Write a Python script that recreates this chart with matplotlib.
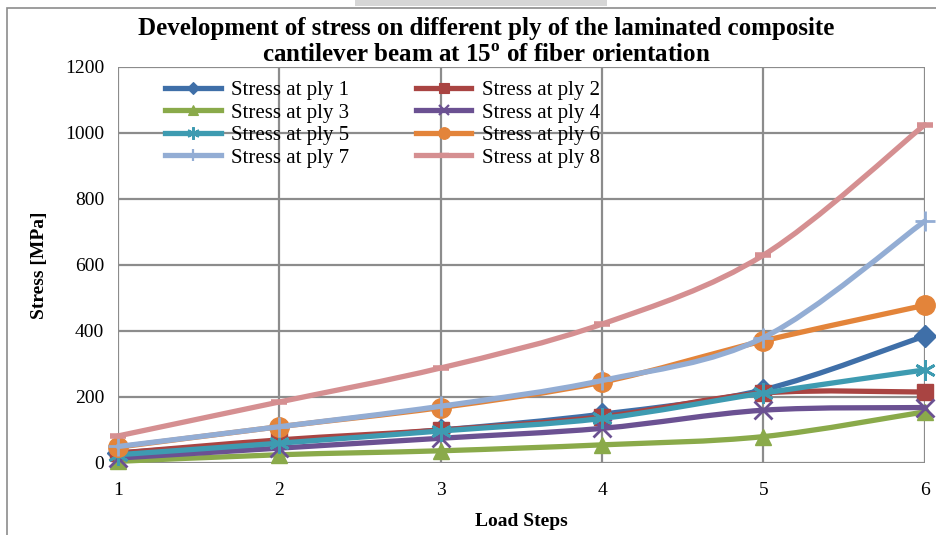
import matplotlib
matplotlib.use("Agg")
import matplotlib.pyplot as plt
from matplotlib.path import Path
from matplotlib.patches import PathPatch, Rectangle
from matplotlib.lines import Line2D

plt.rcParams['font.family'] = ['Liberation Serif', 'DejaVu Serif']
plt.rcParams['mathtext.fontset'] = 'custom'
plt.rcParams['mathtext.rm'] = 'Liberation Serif'
plt.rcParams['mathtext.bf'] = 'Liberation Serif:bold'

# load steps and stress per ply [MPa]
steps = [1, 2, 3, 4, 5, 6]
ply1 = [30, 65, 100, 148, 222, 385]
ply2 = [30, 70, 100, 140, 212, 215]
ply3 = [5, 25, 37, 55, 80, 155]
ply4 = [15, 45, 75, 105, 160, 168]
ply5 = [25, 60, 97, 135, 212, 282]
ply6 = [48, 110, 168, 245, 370, 478]
ply7 = [50, 110, 172, 250, 380, 733]
ply8 = [82, 185, 288, 421, 630, 1025]

names = ['Stress at ply %d' % i for i in range(1, 9)]
series = [ply1, ply2, ply3, ply4, ply5, ply6, ply7, ply8]
colors = ['#3F6FA8', '#A94442', '#8AAA4A', '#6B5192',
          '#3E9BB1', '#E3843A', '#93ADD4', '#D58F91']
markers = ['D', 's', '^', 'x', (6, 2, 0), 'o', '+', '_']
msizes = [11, 12, 12, 13, 15, 14, 15, 11]


def smooth_path(xs, ys):
    # bezier through every point, catmull-rom style tangents
    pts = list(zip(xs, ys))
    verts = [pts[0]]
    codes = [Path.MOVETO]
    n = len(pts)
    for i in range(n - 1):
        p0 = pts[max(i - 1, 0)]
        p1 = pts[i]
        p2 = pts[i + 1]
        p3 = pts[min(i + 2, n - 1)]
        c1 = (p1[0] + (p2[0] - p0[0]) / 6, p1[1] + (p2[1] - p0[1]) / 6)
        c2 = (p2[0] - (p3[0] - p1[0]) / 6, p2[1] - (p3[1] - p1[1]) / 6)
        verts += [c1, c2, p2]
        codes += [Path.CURVE4] * 3
    return Path(verts, codes)


fig = plt.figure(figsize=(9.37, 5.35), dpi=100)
ax = fig.add_axes([0.126, 0.1346, 0.861, 0.7402])

handles = []
for k, (vals, c, m, ms) in enumerate(zip(series, colors, markers, msizes)):
    z = 3 + k
    ax.add_patch(PathPatch(smooth_path(steps, vals), facecolor='none',
                           edgecolor=c, lw=3.8, zorder=z, clip_on=False,
                           capstyle='round', joinstyle='round'))
    mew = 2.0 if m in ('x', '+', '_', (6, 2, 0)) else 1.0
    if m == '_':
        mew = 4
    ax.plot(steps, vals, linestyle='none', marker=m, ms=ms, color=c,
            mec=c, mew=mew, zorder=z, clip_on=False)
    handles.append(Line2D([], [], color=c, lw=3.8, marker=m,
                          ms=ms * 0.6, mec=c, mew=mew * 0.8))

ax.set_xlim(1, 6)
ax.set_ylim(0, 1200)
ax.set_xticks(steps)
ax.set_yticks(range(0, 1201, 200))
ax.grid(True, color='#8C8C8C', lw=1.6)
ax.set_axisbelow(True)
ax.tick_params(length=0, labelsize=14, pad=10)
ax.tick_params(axis='x', pad=14)
for s in ax.spines.values():
    s.set_visible(False)

ax.set_xlabel('Load Steps', fontsize=14, fontweight='bold', labelpad=10)
ax.set_ylabel('Stress [MPa]', fontsize=14, fontweight='bold', labelpad=12)
fig.text(0.519, 1 - 67 / 535,
         'Development of stress on different ply of the laminated composite\n'
         'cantilever beam at 15$^{\\mathbf{o}}$ of fiber orientation',
         ha='center', va='bottom', fontsize=18, fontweight='bold',
         linespacing=1.2)

# legend filled row by row: ply 1 | ply 2, ply 3 | ply 4, ...
order = [0, 2, 4, 6, 1, 3, 5, 7]
ax.legend([handles[i] for i in order], [names[i] for i in order], ncol=2,
          loc='upper left', bbox_to_anchor=(0.042, 1.0), frameon=False,
          fontsize=15, handlelength=2.65, handletextpad=0.5,
          columnspacing=3.2, labelspacing=0.14, borderaxespad=0.25)

# chart frame and a strip of page above it
fig.patches.append(Rectangle((7 / 937, -0.1), 1.2, 1 - 8 / 535 + 0.1,
                             transform=fig.transFigure, fill=False,
                             edgecolor='#8C8C8C', lw=1.2))
fig.patches.append(Rectangle((355 / 937, 1 - 6 / 535), 252 / 937, 6 / 535,
                             transform=fig.transFigure, color='#D6D6D6',
                             lw=0))

fig.savefig('out.png', dpi=100)
